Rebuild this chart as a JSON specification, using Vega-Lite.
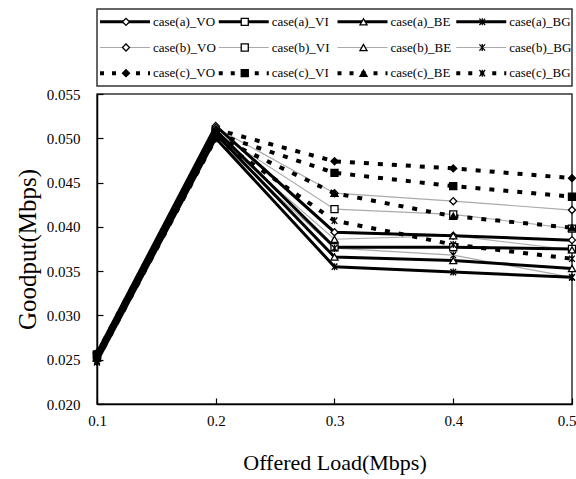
{
  "$schema": "https://vega.github.io/schema/vega-lite/v6.json",
  "padding": {"left": 14, "top": 8, "right": 4, "bottom": 4},
  "bounds": "flush",
  "spacing": 8,
  "config": {
    "font": "Liberation Serif",
    "view": {"stroke": "#333", "strokeWidth": 1.5},
    "axis": {"grid": false, "domainColor": "#000", "domainWidth": 1.5, "tickColor": "#000", "tickWidth": 1.2,
             "labelFont": "Liberation Serif", "labelFontSize": 15, "labelColor": "#000",
             "titleFont": "Liberation Serif", "titleFontSize": 22, "titleFontWeight": "normal", "titleColor": "#000"}
  },
  "datasets": {
    "main": [
      {"series": "case(a)_VO", "case": "a", "type": "VO", "load": 0.1, "goodput": 0.0258},
      {"series": "case(a)_VO", "case": "a", "type": "VO", "load": 0.2, "goodput": 0.0514},
      {"series": "case(a)_VO", "case": "a", "type": "VO", "load": 0.3, "goodput": 0.0394},
      {"series": "case(a)_VO", "case": "a", "type": "VO", "load": 0.4, "goodput": 0.0390},
      {"series": "case(a)_VO", "case": "a", "type": "VO", "load": 0.5, "goodput": 0.0385},
      {"series": "case(a)_VI", "case": "a", "type": "VI", "load": 0.1, "goodput": 0.0256},
      {"series": "case(a)_VI", "case": "a", "type": "VI", "load": 0.2, "goodput": 0.0509},
      {"series": "case(a)_VI", "case": "a", "type": "VI", "load": 0.3, "goodput": 0.0377},
      {"series": "case(a)_VI", "case": "a", "type": "VI", "load": 0.4, "goodput": 0.0377},
      {"series": "case(a)_VI", "case": "a", "type": "VI", "load": 0.5, "goodput": 0.0375},
      {"series": "case(a)_BE", "case": "a", "type": "BE", "load": 0.1, "goodput": 0.0253},
      {"series": "case(a)_BE", "case": "a", "type": "BE", "load": 0.2, "goodput": 0.0505},
      {"series": "case(a)_BE", "case": "a", "type": "BE", "load": 0.3, "goodput": 0.0366},
      {"series": "case(a)_BE", "case": "a", "type": "BE", "load": 0.4, "goodput": 0.0362},
      {"series": "case(a)_BE", "case": "a", "type": "BE", "load": 0.5, "goodput": 0.0353},
      {"series": "case(a)_BG", "case": "a", "type": "BG", "load": 0.1, "goodput": 0.0248},
      {"series": "case(a)_BG", "case": "a", "type": "BG", "load": 0.2, "goodput": 0.0500},
      {"series": "case(a)_BG", "case": "a", "type": "BG", "load": 0.3, "goodput": 0.0355},
      {"series": "case(a)_BG", "case": "a", "type": "BG", "load": 0.4, "goodput": 0.0349},
      {"series": "case(a)_BG", "case": "a", "type": "BG", "load": 0.5, "goodput": 0.0343},
      {"series": "case(b)_VO", "case": "b", "type": "VO", "load": 0.1, "goodput": 0.0257},
      {"series": "case(b)_VO", "case": "b", "type": "VO", "load": 0.2, "goodput": 0.0512},
      {"series": "case(b)_VO", "case": "b", "type": "VO", "load": 0.3, "goodput": 0.0438},
      {"series": "case(b)_VO", "case": "b", "type": "VO", "load": 0.4, "goodput": 0.0429},
      {"series": "case(b)_VO", "case": "b", "type": "VO", "load": 0.5, "goodput": 0.0419},
      {"series": "case(b)_VI", "case": "b", "type": "VI", "load": 0.1, "goodput": 0.0255},
      {"series": "case(b)_VI", "case": "b", "type": "VI", "load": 0.2, "goodput": 0.0507},
      {"series": "case(b)_VI", "case": "b", "type": "VI", "load": 0.3, "goodput": 0.0420},
      {"series": "case(b)_VI", "case": "b", "type": "VI", "load": 0.4, "goodput": 0.0414},
      {"series": "case(b)_VI", "case": "b", "type": "VI", "load": 0.5, "goodput": 0.0398},
      {"series": "case(b)_BE", "case": "b", "type": "BE", "load": 0.1, "goodput": 0.0252},
      {"series": "case(b)_BE", "case": "b", "type": "BE", "load": 0.2, "goodput": 0.0503},
      {"series": "case(b)_BE", "case": "b", "type": "BE", "load": 0.3, "goodput": 0.0386},
      {"series": "case(b)_BE", "case": "b", "type": "BE", "load": 0.4, "goodput": 0.0390},
      {"series": "case(b)_BE", "case": "b", "type": "BE", "load": 0.5, "goodput": 0.0374},
      {"series": "case(b)_BG", "case": "b", "type": "BG", "load": 0.1, "goodput": 0.0247},
      {"series": "case(b)_BG", "case": "b", "type": "BG", "load": 0.2, "goodput": 0.0499},
      {"series": "case(b)_BG", "case": "b", "type": "BG", "load": 0.3, "goodput": 0.0376},
      {"series": "case(b)_BG", "case": "b", "type": "BG", "load": 0.4, "goodput": 0.0368},
      {"series": "case(b)_BG", "case": "b", "type": "BG", "load": 0.5, "goodput": 0.0343},
      {"series": "case(c)_VO", "case": "c", "type": "VO", "load": 0.1, "goodput": 0.0257},
      {"series": "case(c)_VO", "case": "c", "type": "VO", "load": 0.2, "goodput": 0.0510},
      {"series": "case(c)_VO", "case": "c", "type": "VO", "load": 0.3, "goodput": 0.0474},
      {"series": "case(c)_VO", "case": "c", "type": "VO", "load": 0.4, "goodput": 0.0466},
      {"series": "case(c)_VO", "case": "c", "type": "VO", "load": 0.5, "goodput": 0.0455},
      {"series": "case(c)_VI", "case": "c", "type": "VI", "load": 0.1, "goodput": 0.0255},
      {"series": "case(c)_VI", "case": "c", "type": "VI", "load": 0.2, "goodput": 0.0505},
      {"series": "case(c)_VI", "case": "c", "type": "VI", "load": 0.3, "goodput": 0.0461},
      {"series": "case(c)_VI", "case": "c", "type": "VI", "load": 0.4, "goodput": 0.0446},
      {"series": "case(c)_VI", "case": "c", "type": "VI", "load": 0.5, "goodput": 0.0434},
      {"series": "case(c)_BE", "case": "c", "type": "BE", "load": 0.1, "goodput": 0.0252},
      {"series": "case(c)_BE", "case": "c", "type": "BE", "load": 0.2, "goodput": 0.0502},
      {"series": "case(c)_BE", "case": "c", "type": "BE", "load": 0.3, "goodput": 0.0438},
      {"series": "case(c)_BE", "case": "c", "type": "BE", "load": 0.4, "goodput": 0.0412},
      {"series": "case(c)_BE", "case": "c", "type": "BE", "load": 0.5, "goodput": 0.0399},
      {"series": "case(c)_BG", "case": "c", "type": "BG", "load": 0.1, "goodput": 0.0249},
      {"series": "case(c)_BG", "case": "c", "type": "BG", "load": 0.2, "goodput": 0.0500},
      {"series": "case(c)_BG", "case": "c", "type": "BG", "load": 0.3, "goodput": 0.0407},
      {"series": "case(c)_BG", "case": "c", "type": "BG", "load": 0.4, "goodput": 0.0380},
      {"series": "case(c)_BG", "case": "c", "type": "BG", "load": 0.5, "goodput": 0.0364}
    ]
  },
  "vconcat": [
    {
      "width": 475,
      "height": 77,
      "data": {"name": "main"},
      "transform": [{"filter": "datum.load == 0.1"}],
      "encoding": {
        "y": {"field": "case", "type": "ordinal", "scale": {"type": "band", "domain": ["a", "b", "c"], "paddingInner": 0, "paddingOuter": 0}, "axis": null},
        "x": {"field": "type", "type": "ordinal", "bandPosition": 0, "scale": {"type": "band", "domain": ["VO", "VI", "BE", "BG"], "paddingInner": 0, "paddingOuter": 0}, "axis": null}
      },
      "layer": [
        {
          "transform": [{"filter": "datum.case === 'a'"}],
          "mark": {"type": "rule", "xOffset": 3, "x2Offset": 53, "color": "#000", "strokeWidth": 3},
          "encoding": {"x2": {"field": "type", "bandPosition": 0}}
        },
        {
          "transform": [{"filter": "datum.case === 'b'"}],
          "mark": {"type": "rule", "xOffset": 3, "x2Offset": 53, "color": "#aaaaaa", "strokeWidth": 1.2},
          "encoding": {"x2": {"field": "type", "bandPosition": 0}}
        },
        {
          "transform": [{"filter": "datum.case === 'c'"}],
          "mark": {"type": "rule", "xOffset": 3, "x2Offset": 53, "color": "#000", "strokeWidth": 4, "strokeDash": [4, 8]},
          "encoding": {"x2": {"field": "type", "bandPosition": 0}}
        },
        {
          "mark": {"type": "point", "xOffset": 29, "size": 50, "stroke": "#000", "strokeWidth": 1.3, "opacity": 1},
          "encoding": {
            "shape": {"field": "type", "type": "nominal", "scale": {"domain": ["VO", "VI", "BE", "BG"], "range": ["diamond", "square", "triangle-up", "M-0.8,-0.9L0.8,0.9M-0.8,0.9L0.8,-0.9M0,-1L0,1"]}, "legend": null},
            "fill": {"condition": {"test": "datum.type === 'BG'", "value": "transparent"}, "field": "case", "type": "nominal", "scale": {"domain": ["a", "b", "c"], "range": ["#ffffff", "#ffffff", "#000000"]}, "legend": null}
          }
        },
        {
          "mark": {"type": "text", "xOffset": 56, "align": "left", "baseline": "middle", "font": "Liberation Serif", "fontSize": 13, "color": "#000"},
          "encoding": {"text": {"field": "series"}}
        }
      ]
    },
    {
      "width": 475,
      "height": 310,
      "data": {"name": "main"},
      "encoding": {
        "x": {"field": "load", "type": "quantitative", "scale": {"domain": [0.1, 0.5], "nice": false, "zero": false},
              "axis": {"title": "Offered Load(Mbps)", "values": [0.1, 0.2, 0.3, 0.4, 0.5], "format": ".1f", "tickSize": -6, "labelPadding": 15, "titlePadding": 24,
                       "labelAlign": {"expr": "datum.value >= 0.5 ? 'right' : 'center'"}, "labelOffset": {"expr": "datum.value >= 0.5 ? 4 : 0"}}},
        "y": {"field": "goodput", "type": "quantitative", "scale": {"domain": [0.02, 0.055], "nice": false, "zero": false},
              "axis": {"title": "Goodput(Mbps)", "titleFontSize": 25, "values": [0.02, 0.025, 0.03, 0.035, 0.04, 0.045, 0.05, 0.055], "format": ".3f", "tickSize": -6, "labelPadding": 23, "titlePadding": 6}}
      },
      "layer": [
        {
          "transform": [{"filter": "datum.case === 'b'"}],
          "mark": {"type": "line", "color": "#aaaaaa", "strokeWidth": 1.2},
          "encoding": {"detail": {"field": "series"}}
        },
        {
          "transform": [{"filter": "datum.case === 'a'"}],
          "mark": {"type": "line", "color": "#000", "strokeWidth": 3},
          "encoding": {"detail": {"field": "series"}}
        },
        {
          "transform": [{"filter": "datum.case === 'c'"}],
          "mark": {"type": "line", "color": "#000", "strokeWidth": 4, "strokeDash": [5, 9]},
          "encoding": {"detail": {"field": "series"}}
        },
        {
          "mark": {"type": "point", "size": 50, "stroke": "#000", "strokeWidth": 1.3, "opacity": 1},
          "encoding": {
            "shape": {"field": "type", "type": "nominal", "scale": {"domain": ["VO", "VI", "BE", "BG"], "range": ["diamond", "square", "triangle-up", "M-0.8,-0.9L0.8,0.9M-0.8,0.9L0.8,-0.9M0,-1L0,1"]}, "legend": null},
            "fill": {"condition": {"test": "datum.type === 'BG'", "value": "transparent"}, "field": "case", "type": "nominal", "scale": {"domain": ["a", "b", "c"], "range": ["#ffffff", "#ffffff", "#000000"]}, "legend": null}
          }
        }
      ]
    }
  ]
}
